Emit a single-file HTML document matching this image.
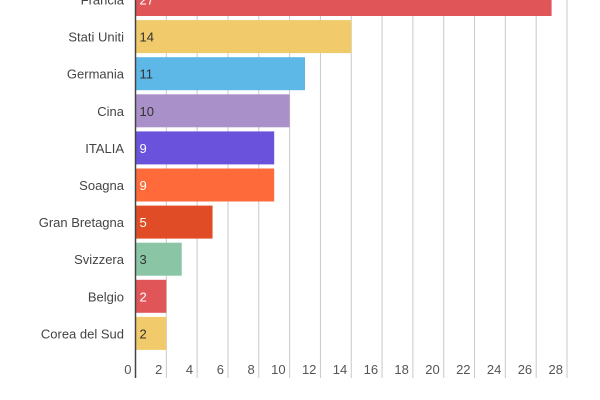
<!DOCTYPE html>
<html><head><meta charset="utf-8"><style>
html,body{margin:0;padding:0;background:#fff;}
svg{display:block;font-family:"Liberation Sans",sans-serif;}
</style></head><body>
<svg id="chart" width="600" height="400"></svg>
<script>
const categories=["Francia","Stati Uniti","Germania","Cina","ITALIA","Soagna","Gran Bretagna","Svizzera","Belgio","Corea del Sud"];
const values=[27,14,11,10,9,9,5,3,2,2];
const colors=["#e05558","#f0ca6b","#5db8e8","#a990c8","#6a52dc","#fe6a3a","#e04c25","#8ac6a6","#e05558","#f0ca6b"];
const labelColors=["#fff","#333","#333","#333","#fff","#fff","#fff","#333","#fff","#333"];
const ticks=[0,2,4,6,8,10,12,14,16,18,20,22,24,26,28];
const NS="http://www.w3.org/2000/svg";
const svg=document.getElementById('chart');
const x0=135.5,x1=567,xmax=28;
const x=v=>x0+v/xmax*(x1-x0);
const y=i=>-0.5+i*37.1;
const bh=33;
function mk(t,a){const e=document.createElementNS(NS,t);for(const k in a)e.setAttribute(k,a[k]);svg.appendChild(e);return e;}
ticks.forEach(t=>{
  if(t>0){const g=mk('line',{x1:x(t),x2:x(t),y1:0,y2:378,stroke:'#c8c8c8','stroke-width':1});
  
  }
  const l=mk('text',{x:x(t)-4,y:374,'text-anchor':'end','font-size':13,fill:'#555'});
  l.textContent=t;
  
  
});
categories.forEach((c,i)=>{
  const r=mk('rect',{x:x0,y:y(i)-bh/2,width:x(values[i])-x0,height:bh,fill:colors[i]});
  
  
  const v=mk('text',{x:x0+4,y:y(i)+5,'font-size':13,fill:labelColors[i]});
  v.textContent=values[i];
  
  
  const l=mk('text',{x:124,y:y(i)+5,'text-anchor':'end','font-size':13,fill:'#444'});
  l.textContent=c;
  
  
});
const ax=mk('line',{x1:x0,x2:x0,y1:0,y2:378,stroke:'#444','stroke-width':1.5});


</script>
</body></html>
